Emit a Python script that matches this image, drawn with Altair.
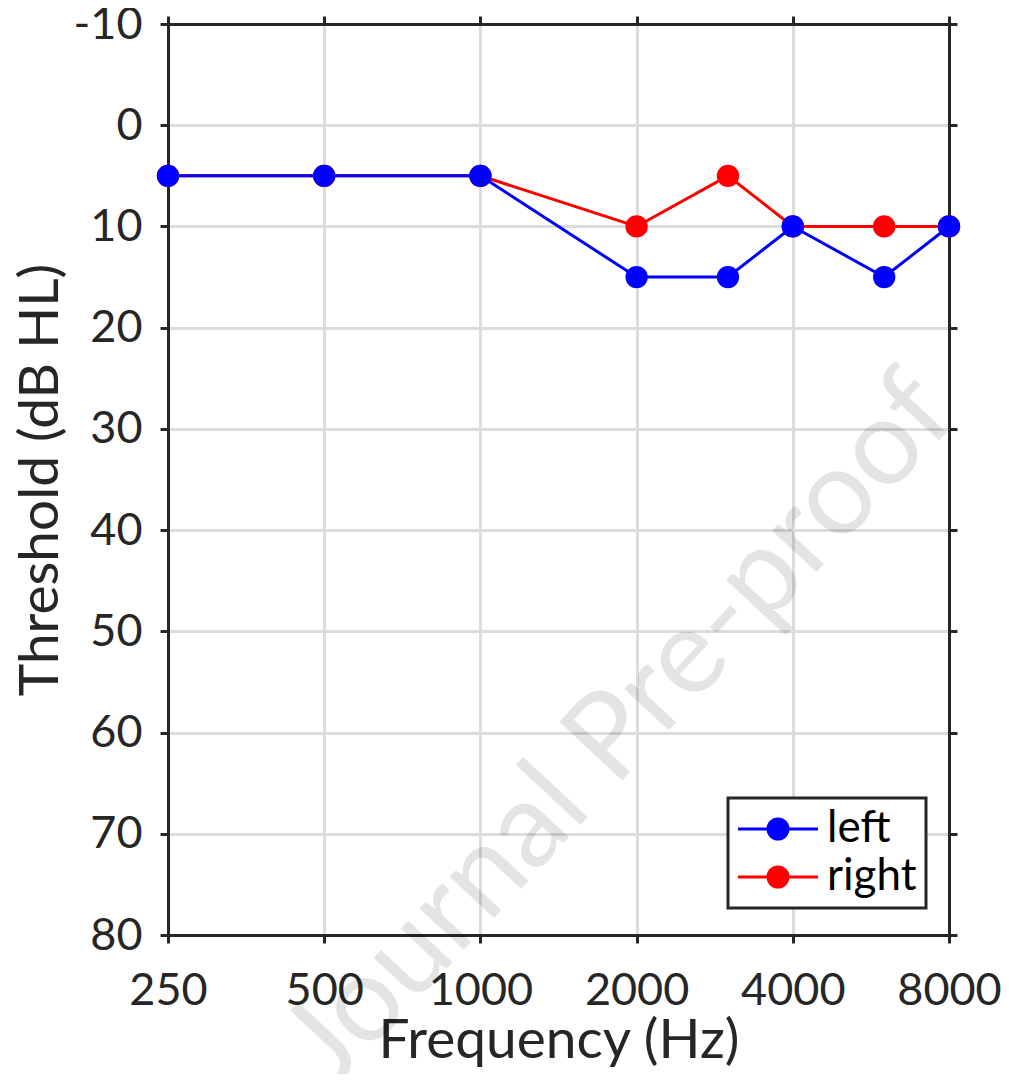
import altair as alt
import pandas as pd

freqs = [250, 500, 1000, 2000, 3000, 4000, 6000, 8000]
left_thr = [5, 5, 5, 15, 15, 10, 15, 10]
right_thr = [5, 5, 5, 10, 5, 10, 10, 10]
ears = ["left", "right"]
ear_colors = ["#0000ff", "#ff0000"]
x_ticks = [250, 500, 1000, 2000, 4000, 8000]
y_ticks = [-10, 0, 10, 20, 30, 40, 50, 60, 70, 80]
watermark = ["Journal Pre-proof"]

df_left = pd.DataFrame({"freq": freqs, "thr": left_thr, "ear": "left"})
df_right = pd.DataFrame({"freq": freqs, "thr": right_thr, "ear": "right"})
df_all = pd.concat([df_right, df_left], ignore_index=True)

FONT = "Lato"
DARK = "#262626"

xscale = alt.Scale(type="log", base=2, domain=[250, 8000], nice=False)
yscale = alt.Scale(domain=[-10, 80], reverse=True, nice=False, zero=False)

sym_path = "M-2.1,0H5.9M2.9,0A1,1 0 1 1 0.9,0A1,1 0 1 1 2.9,0Z"
legend = alt.Legend(
    title=None, orient="none", legendX=560, legendY=774,
    symbolType=sym_path, symbolSize=400, symbolStrokeWidth=3,
    labelFont=FONT, labelFontSize=44, labelColor="black", labelOffset=46,
    padding=9, rowPadding=4, strokeColor=DARK, fillColor="white",
)
color = alt.Color("ear:N", scale=alt.Scale(domain=ears, range=ear_colors), legend=legend)

main_x = alt.X("freq:Q", scale=xscale, title="Frequency (Hz)",
               axis=alt.Axis(values=x_ticks, grid=True, labelFlush=False, labelOverlap=False,
                             labelPadding=25, titleBaseline="alphabetic", titleY=122,
                             labelExpr="'' + datum.value"))
main_y = alt.Y("thr:Q", scale=yscale, title="Threshold (dB HL)",
               axis=alt.Axis(values=y_ticks, grid=True, labelFlush=False, labelOverlap=False,
                             labelPadding=18, titleBaseline="alphabetic", titleX=-111,
                             labelExpr="'' + datum.value"))

box_x = alt.X("freq:Q", scale=xscale, axis=alt.Axis(orient="top", values=x_ticks, labels=False,
                                                     grid=False, title=None))
box_y = alt.Y("thr:Q", scale=yscale, axis=alt.Axis(orient="right", values=y_ticks, labels=False,
                                                    grid=False, title=None))

base_axes = alt.Chart(df_all).mark_point(opacity=0).encode(x=main_x, y=main_y)
box_axes = alt.Chart(df_all).mark_point(opacity=0).encode(x=box_x, y=box_y)

def series(df):
    x = alt.X("freq:Q", scale=xscale, axis=None)
    y = alt.Y("thr:Q", scale=yscale, axis=None)
    ln = alt.Chart(df).mark_line(strokeWidth=3).encode(x=x, y=y, color=color)
    pt = alt.Chart(df).mark_point(filled=True, shape="circle", size=500, opacity=1).encode(
        x=x, y=y, color=color)
    return [ln, pt]

wm = alt.Chart(pd.DataFrame({"t": watermark})).mark_text(
    font=FONT, fontSize=120, angle=313, fill="black", opacity=0.1,
    align="center", baseline="middle",
).encode(text="t:N", x=alt.value(452), y=alt.value(706))

chart = alt.layer(
    base_axes, box_axes, *series(df_right), *series(df_left), wm
).resolve_axis(x="independent", y="independent").properties(
    width=781, height=911,
    autosize=alt.AutoSizeParams(type="none"),
    padding={"left": 160, "top": 16, "right": 52, "bottom": 139},
).configure_view(stroke="transparent").configure_axis(
    domainColor=DARK, domainWidth=3, tickColor=DARK, tickWidth=3, tickSize=8,
    labelFont=FONT, labelFontSize=45, labelColor=DARK,
    titleFont=FONT, titleFontSize=55, titleColor=DARK, titleFontWeight="normal",
    gridColor="#dcdcdc", gridWidth=3,
).configure_legend(strokeWidth=3)

chart.save("out.html", embed_options={"renderer": "svg", "actions": False})
